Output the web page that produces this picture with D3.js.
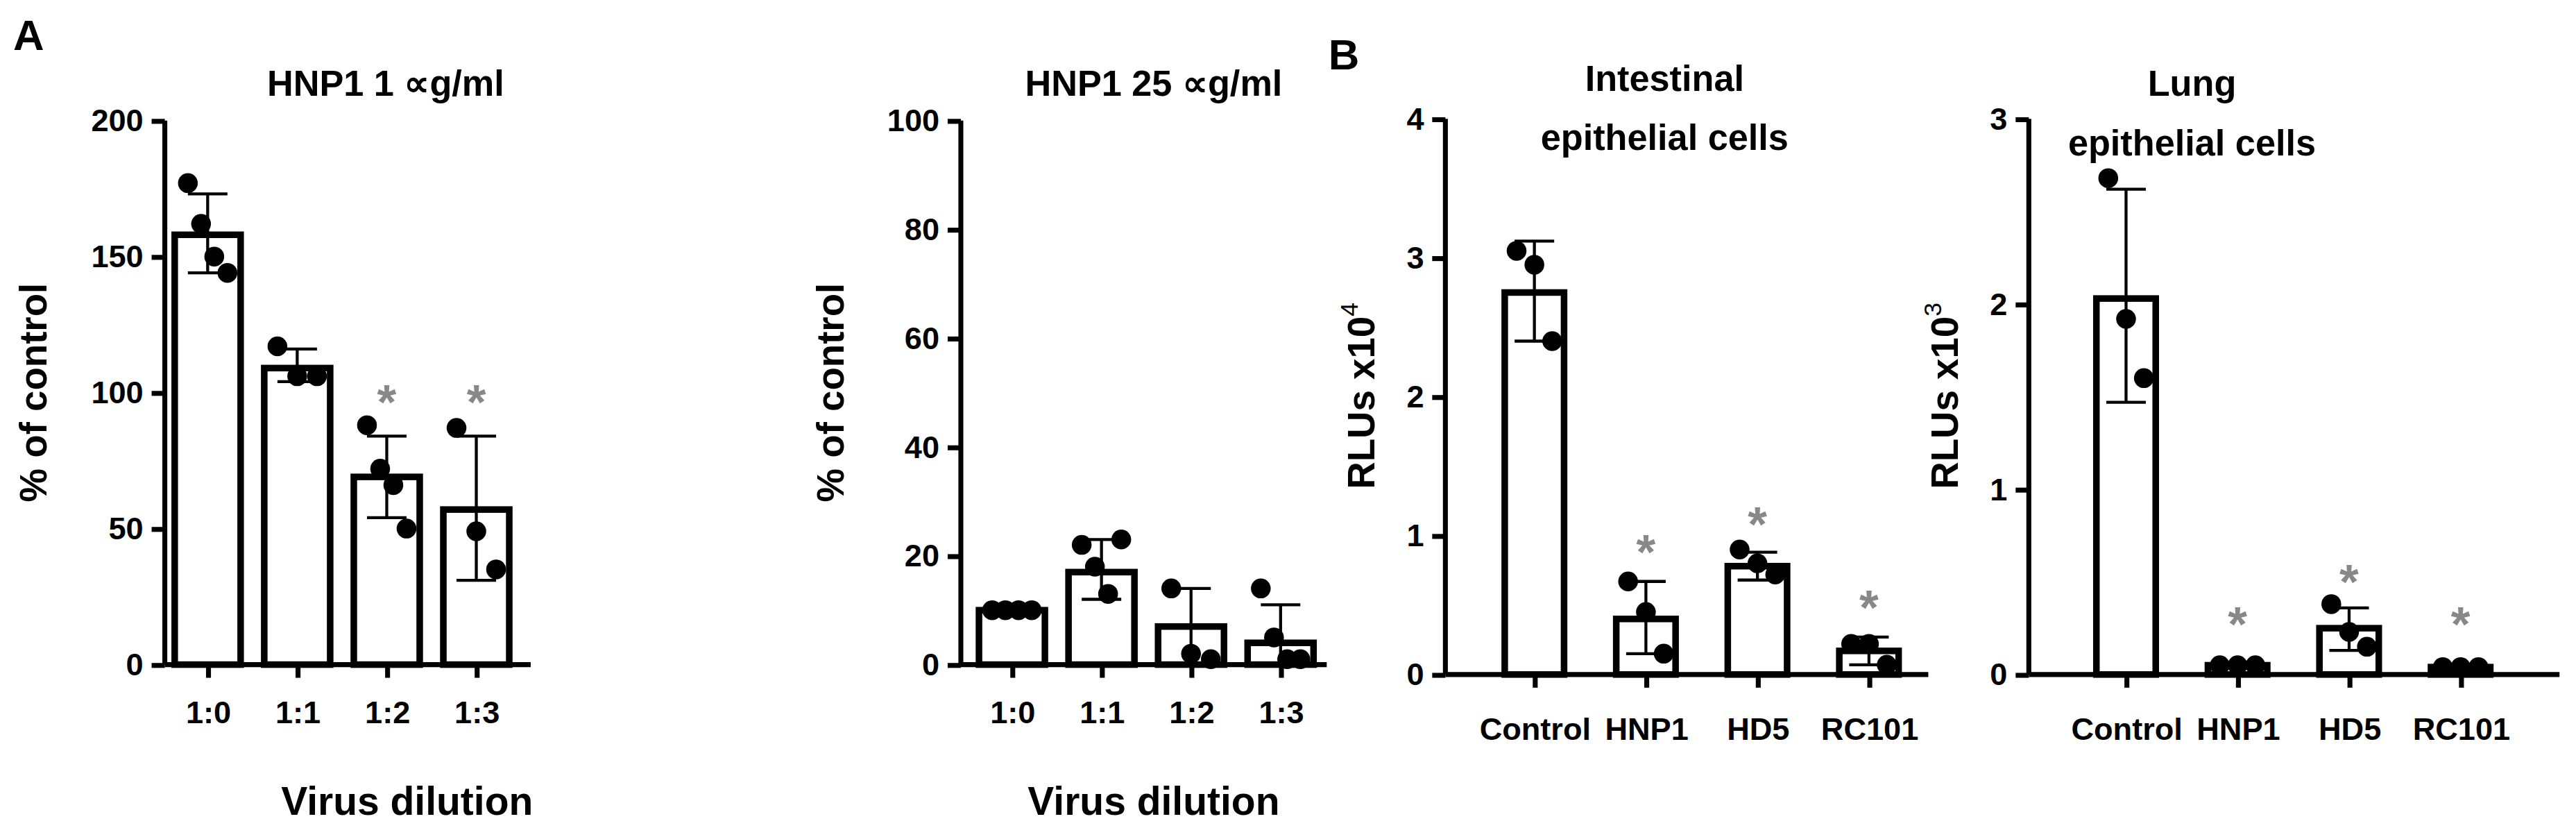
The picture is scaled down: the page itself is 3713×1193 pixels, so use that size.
<!DOCTYPE html>
<html><head><meta charset="utf-8">
<script src="https://cdn.jsdelivr.net/npm/d3@7"></script>
<style>body{margin:0;background:#fff}</style></head>
<body><div id="chart"></div>
<script>
// panel A data
const dilutions = ["1:0", "1:1", "1:2", "1:3"];
const a1Means = [158, 109, 69, 57];
const a1Sd = [[144, 173], [104, 116], [54, 84], [31, 84]];
const a1Points = [[177, 162, 150, 144], [117, 106, 106], [88, 72, 66, 50], [87, 49, 35]];
const a1Stars = [null, null, 100, 100];

const a2Means = [10, 17, 7, 4];
const a2Sd = [[9, 11], [12, 23], [0, 14], [0, 11]];
const a2Points = [[10, 10, 10, 10], [22, 18, 13, 23], [14, 2, 1], [14, 5, 1, 1]];

// panel B data
const treatments = ["Control", "HNP1", "HD5", "RC101"];
const b1Means = [2.75, 0.4, 0.78, 0.17];
const b1Sd = [[2.4, 3.12], [0.15, 0.67], [0.68, 0.88], [0.07, 0.27]];
const b1Points = [[3.05, 2.95, 2.4], [0.67, 0.45, 0.15], [0.9, 0.8, 0.72], [0.22, 0.22, 0.07]];
const b1Stars = [null, 0.95, 1.15, 0.55];

const b2Means = [2.03, 0.05, 0.25, 0.04];
const b2Sd = [[1.47, 2.62], [0.04, 0.06], [0.13, 0.36], [0.03, 0.05]];
const b2Points = [[2.68, 1.92, 1.6], [0.05, 0.05, 0.05], [0.38, 0.23, 0.15], [0.04, 0.04, 0.04]];
const b2Stars = [null, 0.32, 0.55, 0.32];

const svg = d3.select("#chart").append("svg")
  .attr("width", 3713).attr("height", 1193)
  .attr("viewBox", "0 0 1563 502");

function panel(o) {
  const g = svg.append("g");
  const y = d3.scaleLinear().domain([0, o.max]).range([o.y0, o.y1]);
  const x = d3.scalePoint().domain(o.cats).range([o.xFirst, o.xLast]);
  const bw = o.bw;
  const font = o.font;

  // bars
  g.selectAll("rect.bar").data(o.means).join("rect")
    .attr("x", (d, i) => x(o.cats[i]) - bw / 2).attr("width", bw)
    .attr("y", d => y(d)).attr("height", d => y(0) - y(d))
    .attr("fill", "#fff").attr("stroke", "#000").attr("stroke-width", 4);

  // points
  o.points.forEach((pts, i) => {
    const n = pts.length, sp = bw * 0.6 / Math.max(n - 1, 1);
    g.selectAll(null).data(pts).join("circle")
      .attr("cx", (d, j) => x(o.cats[i]) + (n > 1 ? -bw * 0.3 + j * sp : 0))
      .attr("cy", d => y(d)).attr("r", 6).attr("fill", "#000");
  });
  // error bars
  o.sd.forEach((s, i) => {
    const cx = x(o.cats[i]);
    g.append("line").attr("x1", cx).attr("x2", cx).attr("y1", y(s[0])).attr("y2", y(s[1]))
      .attr("stroke", "#000").attr("stroke-width", 1.8);
    [s[0], s[1]].forEach(v => g.append("line").attr("x1", cx - 12).attr("x2", cx + 12)
      .attr("y1", y(v)).attr("y2", y(v)).attr("stroke", "#000").attr("stroke-width", 1.8));
  });
  // stars
  if (o.stars) o.stars.forEach((v, i) => {
    if (v == null) return;
    g.append("text").attr("x", x(o.cats[i])).attr("y", y(v) + 16).attr("text-anchor", "middle")
      .attr("fill", "#888").attr("font-family", "Liberation Sans").attr("font-weight", "bold")
      .attr("font-size", 30).text("*");
  });

  // axes
  const ya = g.append("g").attr("transform", `translate(${o.ax},0)`)
    .call(d3.axisLeft(y).tickValues(o.ticks).tickFormat(d3.format("d")).tickSize(8).tickSizeOuter(0).tickPadding(5));
  const xa = g.append("g").attr("transform", `translate(0,${o.y0})`)
    .call(d3.axisBottom(x).tickSize(8).tickSizeOuter(0).tickPadding(o.xPad));
  ya.select(".domain").attr("d", `M0,${o.y0}V${o.y1}`);
  xa.select(".domain").attr("d", `M${o.ax},0H${o.axEnd}`);
  [ya, xa].forEach(a => {
    a.selectAll("path,line").attr("stroke", "#000").attr("stroke-width", 3);
    a.selectAll("text").attr("fill", "#000").attr("font-family", font)
      .attr("font-weight", "bold").attr("font-size", o.tickSize);
  });

  // title
  o.title.forEach((t, k) => g.append("text").attr("x", o.titleX).attr("y", o.titleY + k * 36)
    .attr("text-anchor", "middle").attr("font-family", font).attr("font-weight", "bold")
    .attr("font-size", o.titleSize).text(t));
  // y label
  const yl = g.append("text").attr("transform", `translate(${o.ylX},${o.ylY}) rotate(-90)`)
    .attr("text-anchor", "middle").attr("font-family", "Liberation Sans").attr("font-weight", "bold")
    .attr("font-size", 23);
  yl.append("tspan").text(o.ylab);
  if (o.ysup) yl.append("tspan").attr("dy", -10).attr("font-size", 15).attr("font-weight", "normal").text(o.ysup);
  if (o.xlab) g.append("text").attr("x", o.xlX).attr("y", 502 - 8).attr("text-anchor", "middle")
    .attr("font-family", "Liberation Sans").attr("font-weight", "bold").attr("font-size", 24).text(o.xlab);
}

const fA = "Liberation Sans", fB = "'Liberation Sans Narrow', 'Liberation Sans'";
panel({cats: dilutions, means: a1Means, sd: a1Sd, points: a1Points, stars: a1Stars, max: 200,
  ticks: [0, 50, 100, 150, 200], y0: 403, y1: 73, ax: 100, axEnd: 322, xFirst: 126, xLast: 289, bw: 40,
  font: fA, tickSize: 19, xPad: 14, title: ["HNP1 1 \u221dg/ml"], titleX: 234, titleY: 58, titleSize: 22,
  ylab: "% of control", ylX: 28, ylY: 238, xlab: "Virus dilution", xlX: 247});
panel({cats: dilutions, means: a2Means, sd: a2Sd, points: a2Points, max: 100,
  ticks: [0, 20, 40, 60, 80, 100], y0: 403, y1: 73, ax: 583, axEnd: 805, xFirst: 614, xLast: 777, bw: 40,
  font: fA, tickSize: 19, xPad: 14, title: ["HNP1 25 \u221dg/ml"], titleX: 700, titleY: 58, titleSize: 22,
  ylab: "% of control", ylX: 512, ylY: 238, xlab: "Virus dilution", xlX: 700});
panel({cats: treatments, means: b1Means, sd: b1Sd, points: b1Points, stars: b1Stars, max: 4,
  ticks: [0, 1, 2, 3, 4], y0: 409, y1: 72, ax: 877, axEnd: 1170, xFirst: 931, xLast: 1134, bw: 36,
  font: fB, tickSize: 19, xPad: 18, title: ["Intestinal", "epithelial cells"], titleX: 1010, titleY: 55, titleSize: 22,
  ylab: "RLUs x10", ysup: "4", ylX: 834, ylY: 240});
panel({cats: treatments, means: b2Means, sd: b2Sd, points: b2Points, stars: b2Stars, max: 3,
  ticks: [0, 1, 2, 3], y0: 409, y1: 72, ax: 1231, axEnd: 1553, xFirst: 1290, xLast: 1493, bw: 36,
  font: fB, tickSize: 19, xPad: 18, title: ["Lung", "epithelial cells"], titleX: 1330, titleY: 58, titleSize: 22,
  ylab: "RLUs x10", ysup: "3", ylX: 1188, ylY: 240});

svg.append("text").attr("x", 8).attr("y", 30).attr("font-family", "Liberation Sans").attr("font-weight", "bold").attr("font-size", 26).text("A");
svg.append("text").attr("x", 806).attr("y", 42).attr("font-family", "Liberation Sans").attr("font-weight", "bold").attr("font-size", 26).text("B");
</script></body></html>
